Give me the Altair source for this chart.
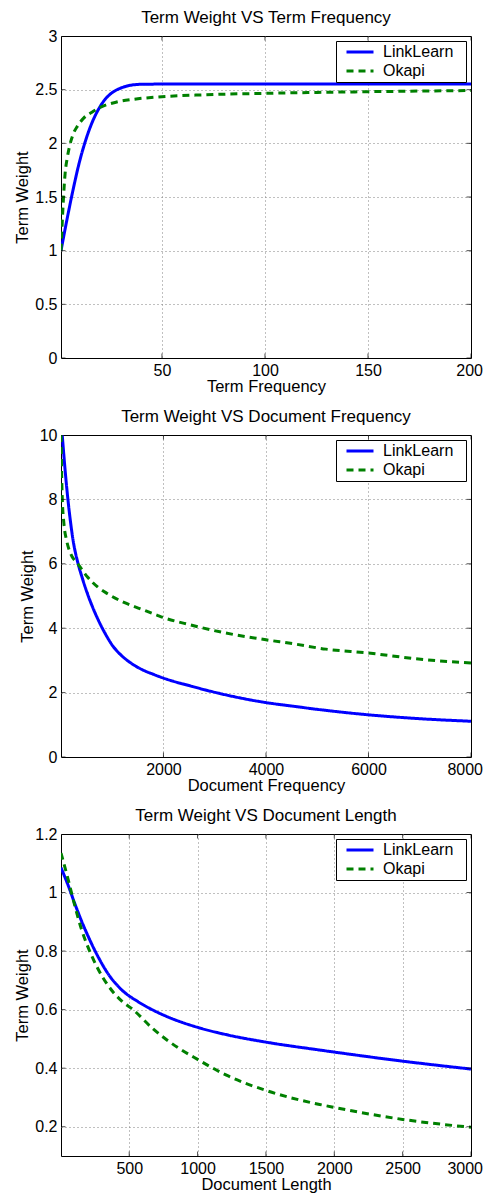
import altair as alt
import pandas as pd

FONT = "Liberation Sans"
BLUE = "#0000ff"
GREEN = "#008000"
SERIES = ["LinkLearn", "Okapi"]

# ---- Panel 1: Term Frequency ----
tf_link_x = [1, 4, 7, 10, 13, 16, 19, 22, 25, 30, 35, 40, 50, 100, 150, 200]
tf_link_y = [1.0, 1.3, 1.58, 1.83, 2.03, 2.19, 2.31, 2.4, 2.46, 2.515, 2.542, 2.55, 2.552, 2.553, 2.553, 2.553]
tf_okapi_x = [1, 2, 3, 4, 5, 7, 9, 12, 16, 20, 28, 36, 48, 70, 100, 150, 200]
tf_okapi_y = [1.0, 1.42, 1.72, 1.86, 1.96, 2.09, 2.16, 2.235, 2.29, 2.335, 2.385, 2.41, 2.432, 2.452, 2.466, 2.481, 2.492]

# ---- Panel 2: Document Frequency ----
df_link_x = [25, 58, 90, 123, 175, 240, 330, 416, 547, 611, 709, 807, 900, 1002, 1130, 1262, 1420, 1588, 1800, 2000, 2564, 3215, 4000, 4517, 5000, 6000, 7000, 8000]
df_link_y = [10.0, 9.35, 8.75, 8.2, 7.45, 6.7, 6.03, 5.56, 4.94, 4.68, 4.32, 4.0, 3.73, 3.47, 3.23, 3.04, 2.86, 2.71, 2.57, 2.45, 2.19, 1.93, 1.69, 1.58, 1.48, 1.31, 1.19, 1.11]
df_okapi_x = [1, 6, 12, 25, 58, 110, 188, 330, 514, 709, 900, 1230, 1555, 1881, 2000, 2532, 3215, 4000, 4517, 5168, 6000, 6925, 8000]
df_okapi_y = [10.0, 9.5, 8.9, 8.07, 7.25, 6.73, 6.32, 6.0, 5.6, 5.29, 5.08, 4.80, 4.60, 4.40, 4.33, 4.10, 3.85, 3.64, 3.52, 3.35, 3.23, 3.05, 2.92]

# ---- Panel 3: Document Length ----
dl_link_x = [1, 53, 102, 151, 200, 273, 346, 444, 565, 680, 809, 1004, 1235, 1500, 1893, 2000, 2500, 3000]
dl_link_y = [1.085, 1.025, 0.962, 0.903, 0.85, 0.78, 0.722, 0.668, 0.627, 0.597, 0.570, 0.539, 0.512, 0.489, 0.462, 0.455, 0.424, 0.397]
dl_okapi_x = [1, 53, 102, 151, 200, 273, 346, 444, 528, 675, 870, 1000, 1211, 1500, 1893, 2000, 2500, 3000]
dl_okapi_y = [1.135, 1.045, 0.955, 0.874, 0.812, 0.738, 0.682, 0.63, 0.6, 0.534, 0.466, 0.43, 0.376, 0.324, 0.276, 0.266, 0.225, 0.198]

# ticks
tf_xticks = [50, 100, 150, 200]
tf_yticks = [0, 0.5, 1, 1.5, 2, 2.5, 3]
df_xticks = [2000, 4000, 6000, 8000]
df_yticks = [0, 2, 4, 6, 8, 10]
dl_xticks = [500, 1000, 1500, 2000, 2500, 3000]
dl_yticks = [0.2, 0.4, 0.6, 0.8, 1.0, 1.2]

W, H = 410, 322


def make_df(lx, ly, ox, oy):
    rows = [{"x": a, "y": b, "series": SERIES[0]} for a, b in zip(lx, ly)]
    rows += [{"x": a, "y": b, "series": SERIES[1]} for a, b in zip(ox, oy)]
    return pd.DataFrame(rows)


def panel(data, title, xtitle, xdom, ydom, xticks, yticks):
    xs = alt.Scale(domain=xdom, zero=False, nice=False)
    ys = alt.Scale(domain=ydom, zero=False, nice=False)
    gx = {"condition": {"test": f"datum.value <= {xdom[0]} || datum.value >= {xdom[1]}", "value": 0}, "value": 1}
    gy = {"condition": {"test": f"datum.value <= {ydom[0]} || datum.value >= {ydom[1]}", "value": 0}, "value": 1}
    leg = alt.Legend(
        orient="top-right", offset=5, title=None, symbolType="M-2.7,0H2.7",
        symbolStrokeWidth=3, symbolSize=100, labelFontSize=16, labelFont=FONT,
        labelColor="black", padding=3, rowPadding=3, strokeColor="black",
        fillColor="white", labelOffset=15, symbolOffset=13,
        labelExpr="datum.label + '\u00a0\u00a0\u200b'",
    )
    lines = alt.Chart(data).mark_line(strokeWidth=3, clip=True, interpolate="monotone").encode(
        x=alt.X("x:Q", scale=xs, axis=alt.Axis(
            values=xticks, title=xtitle, grid=True, gridDash=[1, 3], gridColor="#808080",
            gridOpacity=gx, ticks=False, domain=False, labelPadding=4, titlePadding=0,
            labelFlush=True, labelFlushOffset=11.5, labelExpr="'' + datum.value")),
        y=alt.Y("y:Q", scale=ys, axis=alt.Axis(
            values=yticks, title="Term Weight", grid=True, gridDash=[1, 3], gridColor="#808080",
            gridOpacity=gy, ticks=False, domain=False, labelPadding=4, titlePadding=4,
            labelFlush=False, labelExpr="'' + datum.value")),
        color=alt.Color("series:N", scale=alt.Scale(domain=SERIES, range=[BLUE, GREEN]), legend=leg),
        strokeDash=alt.StrokeDash("series:N", scale=alt.Scale(domain=SERIES, range=[[1, 0], [7, 5]]), legend=leg),
    )
    xt = pd.DataFrame({"v": xticks})
    yt = pd.DataFrame({"v": yticks})
    tick_b = alt.Chart(xt).mark_tick(color="black", size=9, thickness=1, clip=True, orient="vertical").encode(
        x=alt.X("v:Q", scale=xs), y=alt.value(H))
    tick_t = alt.Chart(xt).mark_tick(color="black", size=9, thickness=1, clip=True, orient="vertical").encode(
        x=alt.X("v:Q", scale=xs), y=alt.value(0))
    tick_l = alt.Chart(yt).mark_tick(color="black", size=9, thickness=1, clip=True, orient="horizontal").encode(
        y=alt.Y("v:Q", scale=ys), x=alt.value(0))
    tick_r = alt.Chart(yt).mark_tick(color="black", size=9, thickness=1, clip=True, orient="horizontal").encode(
        y=alt.Y("v:Q", scale=ys), x=alt.value(W))
    return alt.layer(lines, tick_b, tick_t, tick_l, tick_r).properties(
        width=W, height=H,
        title=alt.TitleParams(title, fontSize=17, fontWeight="normal", font=FONT, color="black",
                              offset=1, anchor="middle"),
    )


p1 = panel(make_df(tf_link_x, tf_link_y, tf_okapi_x, tf_okapi_y), "Term Weight VS Term Frequency",
           "Term Frequency", [1, 200], [0, 3], tf_xticks, tf_yticks)
p2 = panel(make_df(df_link_x, df_link_y, df_okapi_x, df_okapi_y), "Term Weight VS Document Frequency",
           "Document Frequency", [1, 8000], [0, 10], df_xticks, df_yticks)
p3 = panel(make_df(dl_link_x, dl_link_y, dl_okapi_x, dl_okapi_y), "Term Weight VS Document Length",
           "Document Length", [1, 3000], [0.1, 1.2], dl_xticks, dl_yticks)

chart = alt.concat(p1, p2, p3, columns=1, spacing=12).properties(
    align="none",
    background="white",
    padding={"left": 6, "top": 0, "right": 0, "bottom": 0},
).resolve_scale(x="independent", y="independent", color="independent", strokeDash="independent").configure_view(
    stroke="black", strokeWidth=1
).configure_axis(
    labelFont=FONT, labelFontSize=16, labelColor="black",
    titleFont=FONT, titleFontSize=16.5, titleFontWeight="normal", titleColor="black",
)

chart.save("out.html", embed_options={"renderer": "svg", "actions": False})
